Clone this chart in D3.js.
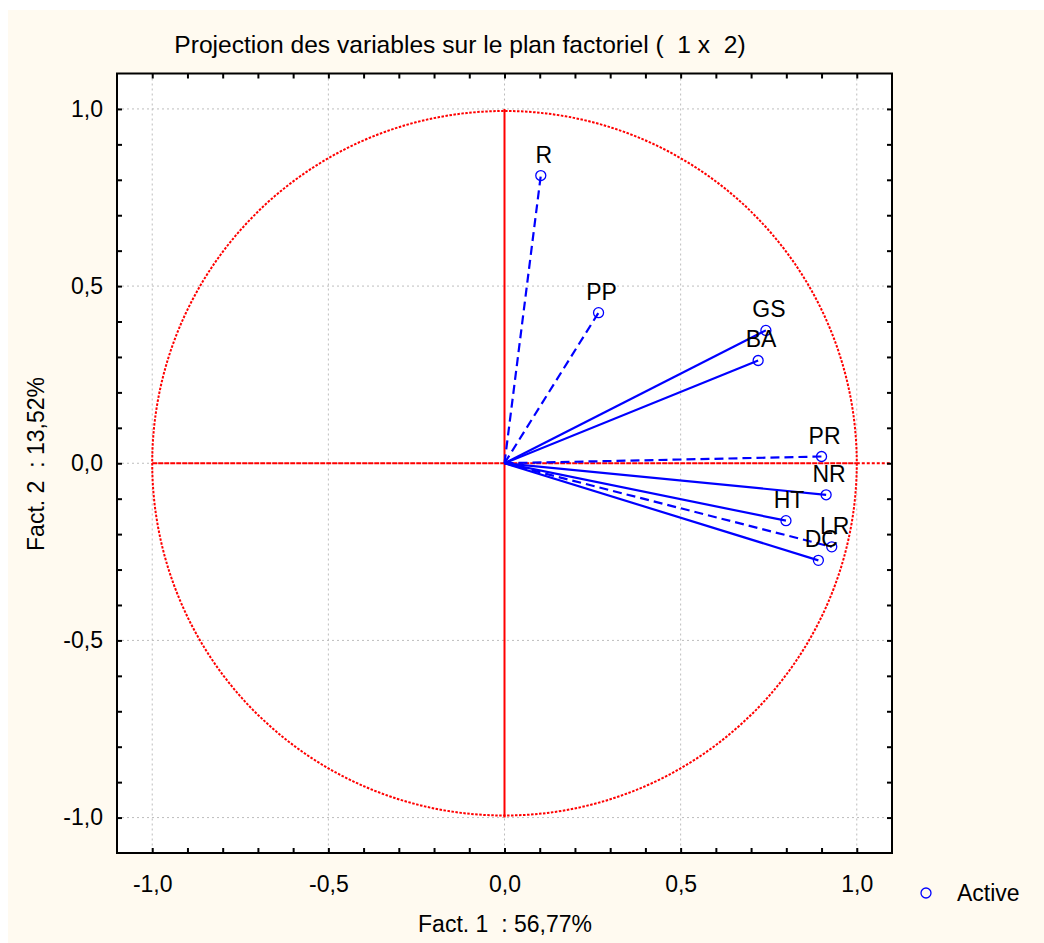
<!DOCTYPE html>
<html>
<head>
<meta charset="utf-8">
<script src="https://cdn.jsdelivr.net/npm/d3@7"></script>
<style>
  html, body { margin: 0; padding: 0; background: #ffffff; }
  svg { display: block; }
  text { font-family: "Liberation Sans", Arial, sans-serif; fill: #000; white-space: pre; }
</style>
</head>
<body>
<script>
// ---- data ----
const variables = ["R", "PP", "GS", "BA", "PR", "NR", "HT", "LR", "DC"];
const fact1 =     [0.103, 0.267, 0.742, 0.720, 0.900, 0.913, 0.799, 0.929, 0.891];
const fact2 =     [0.812, 0.425, 0.375, 0.290, 0.019, -0.089, -0.162, -0.236, -0.274];
const dashed =    [true, true, false, false, true, false, false, true, false];
const majorTicks = [-1.0, -0.5, 0.0, 0.5, 1.0];
const minorTicks = d3.range(-10, 11).map(d => d / 10);
const titleText = "Projection des variables sur le plan factoriel (  1 x  2)";
const xTitle = "Fact. 1  : 56,77%";
const yTitle = "Fact. 2  : 13,52%";
const legendLabel = "Active";

// ---- layout ----
const W = 1044, H = 943;
const svg = d3.select("body").append("svg").attr("width", W).attr("height", H);
svg.append("rect").attr("x", 8).attr("y", 10).attr("width", W - 8).attr("height", H - 10).attr("fill", "#fffaf0");

const L = 117, R = 892, T = 73.5, B = 853;
const x = d3.scaleLinear().domain([-1.1, 1.1]).range([L, R]);
const y = d3.scaleLinear().domain([-1.1, 1.1]).range([B, T]);

svg.append("rect").attr("x", L).attr("y", T).attr("width", R - L).attr("height", B - T).attr("fill", "#ffffff");

const fmt = v => d3.format(".1f")(v).replace(".", ",").replace("\u2212", "-");

// grid
const grid = svg.append("g").attr("stroke", "#bdbdbd").attr("stroke-width", 1).attr("stroke-dasharray", "2,3");
grid.selectAll("line.v").data(majorTicks).join("line")
  .attr("x1", d => x(d)).attr("x2", d => x(d)).attr("y1", T).attr("y2", B);
grid.selectAll("line.h").data(majorTicks).join("line")
  .attr("y1", d => y(d)).attr("y2", d => y(d)).attr("x1", L).attr("x2", R);

// red axes lines
svg.append("line").attr("x1", x(0)).attr("x2", x(0)).attr("y1", y(1)).attr("y2", y(-1))
  .attr("stroke", "#ff0000").attr("stroke-width", 2);
svg.append("line").attr("x1", x(-1)).attr("x2", x(1)).attr("y1", y(0)).attr("y2", y(0))
  .attr("stroke", "#ff0000").attr("stroke-width", 2).attr("stroke-dasharray", "5,1");
svg.append("line").attr("x1", x(1)).attr("x2", x(1.1)).attr("y1", y(0)).attr("y2", y(0))
  .attr("stroke", "#ff0000").attr("stroke-width", 2).attr("stroke-dasharray", "3,2");

// unit circle
svg.append("circle").attr("cx", x(0)).attr("cy", y(0)).attr("r", x(1) - x(0))
  .attr("fill", "none").attr("stroke", "#ff0000").attr("stroke-width", 2).attr("stroke-dasharray", "2.5,1.5");

// vectors
const data = variables.map((v, i) => ({ name: v, a: fact1[i], b: fact2[i], dash: dashed[i] }));
const vec = svg.append("g");
vec.selectAll("line").data(data).join("line")
  .attr("x1", x(0)).attr("y1", y(0))
  .attr("x2", d => x(d.a)).attr("y2", d => y(d.b))
  .attr("stroke", "#0000ff").attr("stroke-width", 2.2)
  .attr("stroke-dasharray", d => d.dash ? "9,5" : null);
vec.selectAll("circle").data(data).join("circle")
  .attr("cx", d => x(d.a)).attr("cy", d => y(d.b)).attr("r", 5)
  .attr("fill", "none").attr("stroke", "#0000ff").attr("stroke-width", 1.3);
vec.selectAll("text").data(data).join("text")
  .attr("x", d => x(d.a) + 3).attr("y", d => y(d.b) - 13)
  .attr("text-anchor", "middle").attr("font-size", 23).text(d => d.name);

// frame
svg.append("rect").attr("x", L).attr("y", T).attr("width", R - L).attr("height", B - T)
  .attr("fill", "none").attr("stroke", "#000").attr("stroke-width", 2);

// minor ticks (inside) on all four sides
function ticksAxis(axis, tr) {
  const g = svg.append("g").attr("transform", tr).call(axis);
  g.select(".domain").remove();
  g.selectAll(".tick line").attr("stroke", "#000").attr("stroke-width", 2);
  return g;
}
ticksAxis(d3.axisBottom(x).tickValues(minorTicks).tickSize(-5).tickFormat(""), `translate(0,${B})`);
ticksAxis(d3.axisTop(x).tickValues(minorTicks).tickSize(-5).tickFormat(""), `translate(0,${T})`);
ticksAxis(d3.axisLeft(y).tickValues(minorTicks).tickSize(-5).tickFormat(""), `translate(${L},0)`);
ticksAxis(d3.axisRight(y).tickValues(minorTicks).tickSize(-5).tickFormat(""), `translate(${R},0)`);

// labels
const xl = svg.append("g").attr("transform", `translate(0,${B})`)
  .call(d3.axisBottom(x).tickValues(majorTicks).tickSize(0).tickPadding(23).tickFormat(fmt));
xl.select(".domain").remove();
xl.selectAll("text").attr("font-size", 23).attr("font-family", "Liberation Sans, Arial, sans-serif").attr("fill", "#000");
const yl = svg.append("g").attr("transform", `translate(${L},0)`)
  .call(d3.axisLeft(y).tickValues(majorTicks).tickSize(0).tickPadding(14).tickFormat(fmt));
yl.select(".domain").remove();
yl.selectAll("text").attr("font-size", 23).attr("font-family", "Liberation Sans, Arial, sans-serif").attr("fill", "#000");

// titles
svg.append("text").attr("x", 460).attr("y", 53).attr("text-anchor", "middle").attr("font-size", 24.6).text(titleText);
svg.append("text").attr("x", 505).attr("y", 932).attr("text-anchor", "middle").attr("font-size", 23).text(xTitle);
svg.append("text").attr("transform", "translate(44,464) rotate(-90)").attr("text-anchor", "middle").attr("font-size", 23).text(yTitle);

// legend
svg.append("circle").attr("cx", 926).attr("cy", 893).attr("r", 5).attr("fill", "none").attr("stroke", "#0000ff").attr("stroke-width", 1.3);
svg.append("text").attr("x", 957).attr("y", 901).attr("font-size", 23).text(legendLabel);
</script>
</body>
</html>
